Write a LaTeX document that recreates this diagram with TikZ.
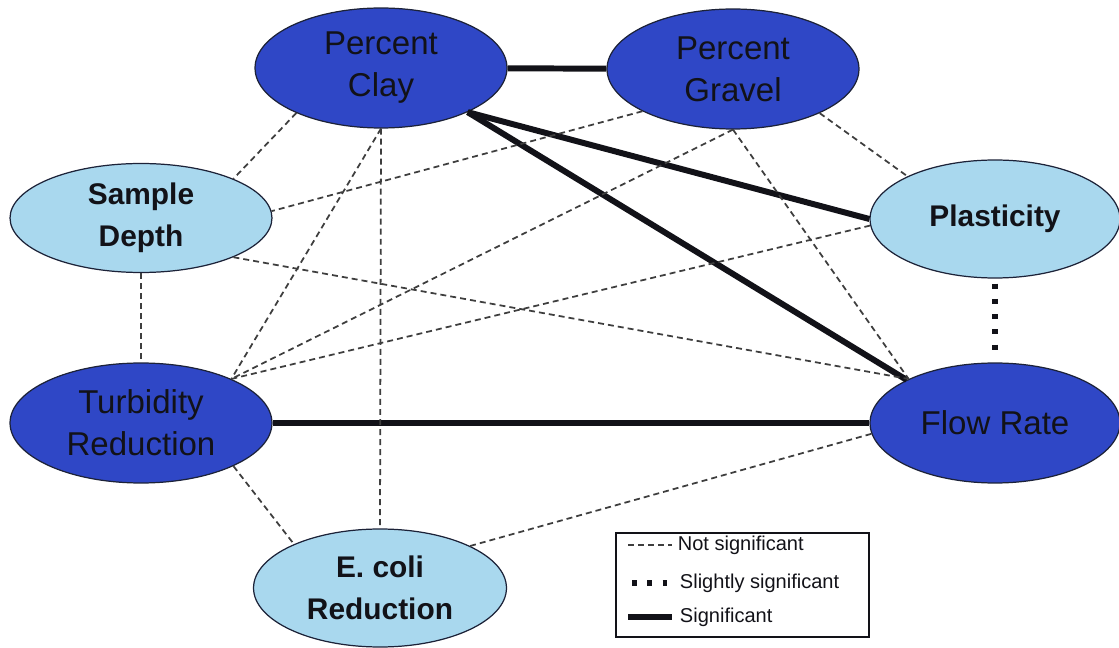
\documentclass[tikz,border=0pt]{standalone}
\usepackage{fontspec}
\setmainfont{Liberation Sans}
\usepackage{tikz}
\usetikzlibrary{shapes,positioning,calc}
\definecolor{Darkblue}{HTML}{2F47C6}
\definecolor{Lightblue}{HTML}{A9D8EE}
\definecolor{Outline}{HTML}{1C2238}
\definecolor{Ink}{HTML}{121218}
\definecolor{Dashgray}{HTML}{3E3E3E}

\begin{document}
\begin{tikzpicture}
[x=0.02cm,y=-0.02cm,
    block/.style={ellipse,draw=Outline,line width=.7pt,fill=Darkblue,text=Ink,align=center,
    inner sep=0pt,minimum width=5.04cm,minimum height=2.4cm,
    font=\fontsize{18.8}{23.9}\selectfont},
    lightblock/.style={block,fill=Lightblue,font=\fontsize{17}{23.9}\selectfont\bfseries},
    strong/.style={line width=3.4pt,draw=Ink},
    slight/.style={line width=3.4pt,draw=Ink,dash pattern=on 2.8pt off 5.9pt},
    weak/.style={line width=1pt,draw=Dashgray,dash pattern=on 3.4pt off 2.3pt},
    key/.style={inner sep=0pt,text=Ink,font=\fontsize{11.4}{13}\selectfont}]

\useasboundingbox (0,0) rectangle (1119,648);

\node[block] (clay) at (381,68) {Percent\\Clay};
\node[block] (gravel) at (733,69) {Percent\\Gravel};
\node[lightblock,minimum width=5.24cm,minimum height=2.18cm] (depth) at (141,218) {Sample\\Depth};
\node[lightblock,minimum width=5cm,minimum height=2.36cm] (plasticity) at (995,219) {Plasticity};
\node[block,minimum width=5.24cm] (turbidity) at (141,423) {Turbidity\\Reduction};
\node[block,minimum width=5cm] (flow) at (995,423) {Flow Rate};
\node[lightblock,minimum width=5.06cm,minimum height=2.36cm] (ecoli) at (380,588) {E. coli\\Reduction};

%% significant
\draw (clay) edge[strong] (gravel);
\draw (clay.-27) edge[strong] (plasticity.west);
\draw (clay.-27) edge[strong] (flow.154);
\draw (turbidity) edge[strong] (flow);
%% slightly significant
\draw (plasticity.south) edge[slight,shorten <=.1cm,shorten >=.16cm] (flow.north);
%% not significant
\draw (clay.208) edge[weak] (depth.23);
\draw (clay.south) edge[weak] (turbidity.26);
\draw (clay.south) edge[weak] (ecoli.north);
\draw (gravel.205) edge[weak] (depth.3);
\draw (gravel.south) edge[weak] (turbidity.26);
\draw (gravel.south) edge[weak] (flow.153);
\draw (gravel.-27) edge[weak] (plasticity.154);
\draw (depth.-23) edge[weak] (flow.153);
\draw (depth) edge[weak] (turbidity);
\draw (plasticity.183) edge[weak] (turbidity.26);
\draw (turbidity.-25) edge[weak] (ecoli.153);
\draw (ecoli.25) edge[weak] (flow.185);

%%
%% legend
%%
\node[draw=Ink,line width=.8pt,minimum width=5.06cm,minimum height=2.08cm,inner sep=0pt] (legend) at (742.5,585) {};
\draw[weak] (628,545) -- (672,545) node[key,right=.1cm] (knot) {Not significant};
\draw[slight] (632,583) -- (672,583) node[key,right=.1cm] (kslight) {Slightly significant};
\draw[strong] (628,617) -- (672,617) node[key,right=.1cm] (ksig) {Significant};

\end{tikzpicture}
\end{document}
